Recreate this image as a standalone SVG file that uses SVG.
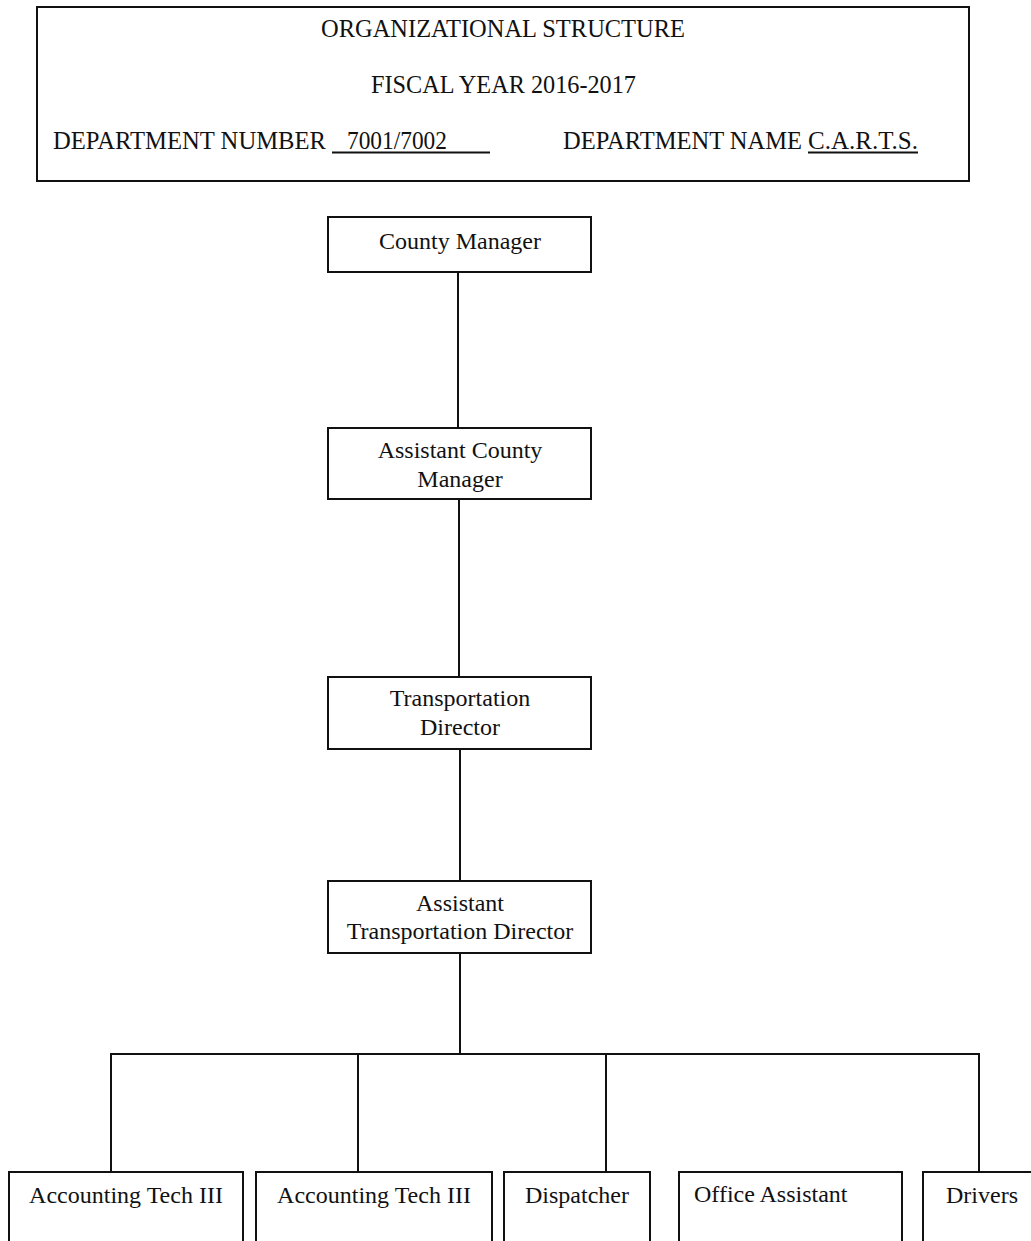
<svg xmlns="http://www.w3.org/2000/svg" width="1031" height="1241" viewBox="0 0 1031 1241">
<style>
.box{fill:#fff;stroke:#111;stroke-width:2}
.ln{stroke:#111;stroke-width:2;fill:none}
text{font-family:"Liberation Serif","Times New Roman",serif;font-size:24px;fill:#111}
.h{font-size:25px}
.c{text-anchor:middle}
</style>
<rect width="1031" height="1241" fill="#fff"/>
<g id="header">
<rect class="box" x="37" y="7" width="932" height="174"/>
<text class="h" x="321" y="37" textLength="364" lengthAdjust="spacingAndGlyphs">ORGANIZATIONAL STRUCTURE</text>
<text class="h" x="371" y="93" textLength="265" lengthAdjust="spacingAndGlyphs">FISCAL YEAR 2016-2017</text>
<text class="h" x="53" y="149" textLength="273" lengthAdjust="spacingAndGlyphs">DEPARTMENT NUMBER</text>
<text class="h" x="347" y="149" textLength="100" lengthAdjust="spacingAndGlyphs">7001/7002</text>
<line class="ln" x1="332" y1="152.5" x2="490" y2="152.5"/>
<text class="h" x="563" y="149" textLength="239" lengthAdjust="spacingAndGlyphs">DEPARTMENT NAME</text>
<text class="h" x="808" y="149" textLength="110" lengthAdjust="spacingAndGlyphs">C.A.R.T.S.</text>
<line class="ln" x1="808" y1="152.5" x2="918" y2="152.5"/>
</g>
<g id="connectors">
<line class="ln" x1="458" y1="272" x2="458" y2="428"/>
<line class="ln" x1="459" y1="499" x2="459" y2="677"/>
<line class="ln" x1="460" y1="749" x2="460" y2="881"/>
<line class="ln" x1="460" y1="953" x2="460" y2="1054"/>
<polyline class="ln" points="111,1172 111,1054 979,1054 979,1172"/>
<line class="ln" x1="358" y1="1054" x2="358" y2="1172"/>
<line class="ln" x1="606" y1="1054" x2="606" y2="1172"/>
</g>
<g id="county-manager">
<rect class="box" x="328" y="217" width="263" height="55"/>
<text class="c" x="460" y="249">County Manager</text>
</g>
<g id="assistant-county-manager">
<rect class="box" x="328" y="428" width="263" height="71"/>
<text class="c" x="460" y="458">Assistant County</text>
<text class="c" x="460" y="487">Manager</text>
</g>
<g id="transportation-director">
<rect class="box" x="328" y="677" width="263" height="72"/>
<text class="c" x="460" y="706">Transportation</text>
<text class="c" x="460" y="735">Director</text>
</g>
<g id="assistant-transportation-director">
<rect class="box" x="328" y="881" width="263" height="72"/>
<text class="c" x="460" y="911">Assistant</text>
<text class="c" x="460" y="939">Transportation Director</text>
</g>
<g id="accounting-tech-1">
<rect class="box" x="9" y="1172" width="234" height="90"/>
<text class="c" x="126" y="1203">Accounting Tech III</text>
</g>
<g id="accounting-tech-2">
<rect class="box" x="256" y="1172" width="236" height="90"/>
<text class="c" x="374" y="1203">Accounting Tech III</text>
</g>
<g id="dispatcher">
<rect class="box" x="504" y="1172" width="146" height="90"/>
<text class="c" x="577" y="1203">Dispatcher</text>
</g>
<g id="office-assistant">
<rect class="box" x="679" y="1172" width="223" height="90"/>
<text x="694" y="1202">Office Assistant</text>
</g>
<g id="drivers">
<rect class="box" x="923" y="1172" width="130" height="90"/>
<text class="c" x="982" y="1203">Drivers</text>
</g>
</svg>
